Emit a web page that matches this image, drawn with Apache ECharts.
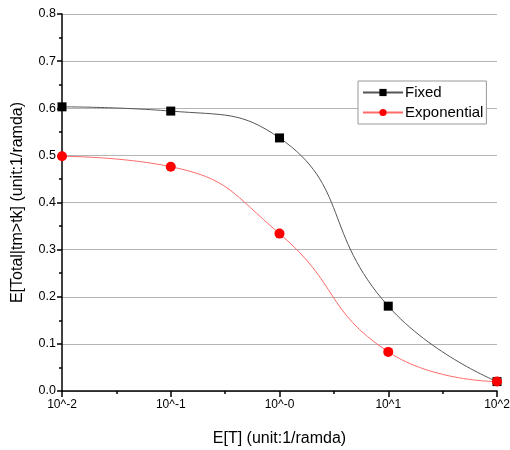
<!DOCTYPE html>
<html>
<head>
<meta charset="utf-8">
<script src="https://cdn.jsdelivr.net/npm/echarts@6/dist/echarts.min.js"></script>
<style>
  html, body { margin: 0; padding: 0; background: #fff; }
  #chart { width: 510px; height: 450px; }
</style>
</head>
<body>
<div id="chart"></div>
<script>
// x positions as powers of ten (10^-2 .. 10^2)
var xExp = [-2, -1, 0, 1, 2];
var xTickLabels = ['10^-2', '10^-1', '10^-0', '10^1', '10^2'];
var fixedVals = [0.603, 0.594, 0.537, 0.180, 0.020];
var expVals = [0.498, 0.476, 0.334, 0.083, 0.020];

var font = 'Liberation Sans, Arial, sans-serif';

var pairs = function (xs, ys) {
    var out = [];
    for (var i = 0; i < xs.length; i++) {
        out.push([xs[i], ys[i]]);
    }
    return out;
};

var chart = echarts.init(document.getElementById('chart'));

var option = {
    animation: false,
    grid: {left: 62, right: 13, top: 14, bottom: 59, outerBoundsMode: 'none', containLabel: false},
    legend: {
        left: 358,
        top: 81,
        orient: 'vertical',
        itemWidth: 40,
        itemHeight: 9,
        itemGap: 5,
        padding: [4, 3, 4, 4],
        backgroundColor: '#fff',
        borderColor: '#999',
        borderWidth: 1,
        textStyle: {fontFamily: font, fontSize: 15, color: '#000', padding: [0, 0, 0, -3]},
        data: ['Fixed', 'Exponential']
    },
    xAxis: {
        type: 'value',
        min: -2,
        max: 2,
        interval: 1,
        name: 'E[T] (unit:1/ramda)',
        nameLocation: 'middle',
        nameGap: 40,
        nameTextStyle: {fontFamily: font, fontSize: 16, color: '#000'},
        axisLine: {lineStyle: {color: '#000', width: 1.5}},
        axisTick: {length: 6, lineStyle: {color: '#000', width: 1.5}},
        minorTick: {show: true, splitNumber: 2, length: 3, lineStyle: {color: '#000', width: 1.5}},
        splitLine: {show: false},
        axisLabel: {
            fontFamily: font, fontSize: 12, color: '#000', margin: 8,
            formatter: function (v) {
                var i = xExp.indexOf(v);
                return i >= 0 ? xTickLabels[i] : '';
            }
        }
    },
    yAxis: {
        type: 'value',
        min: 0,
        max: 0.8,
        interval: 0.1,
        name: 'E[Total|tm>tk] (unit:1/ramda)',
        nameLocation: 'middle',
        nameGap: 36,
        nameTextStyle: {fontFamily: font, fontSize: 16, color: '#000'},
        axisLine: {show: true, onZero: false, lineStyle: {color: '#000', width: 1.5}},
        axisTick: {show: true, length: 5, lineStyle: {color: '#000', width: 1.5}},
        minorTick: {show: true, splitNumber: 2, length: 3, lineStyle: {color: '#000', width: 1.5}},
        splitLine: {show: true, lineStyle: {color: '#b4b4b4', width: 1}},
        axisLabel: {
            fontFamily: font, fontSize: 12.5, color: '#000', margin: 6,
            formatter: function (v) { return v.toFixed(1); }
        }
    },
    series: [
        {
            name: 'Fixed',
            type: 'line',
            smooth: 0.5,
            data: pairs(xExp, fixedVals),
            symbol: 'rect',
            symbolSize: 9,
            itemStyle: {color: '#000'},
            lineStyle: {color: '#555', width: 1},
            clip: false
        },
        {
            name: 'Exponential',
            type: 'line',
            smooth: 0.5,
            data: pairs(xExp, expVals),
            symbol: 'circle',
            symbolSize: 10,
            itemStyle: {color: '#ff0000'},
            lineStyle: {color: '#ff6a6a', width: 1},
            clip: false
        }
    ]
};
chart.setOption(option);
</script>
</body>
</html>
